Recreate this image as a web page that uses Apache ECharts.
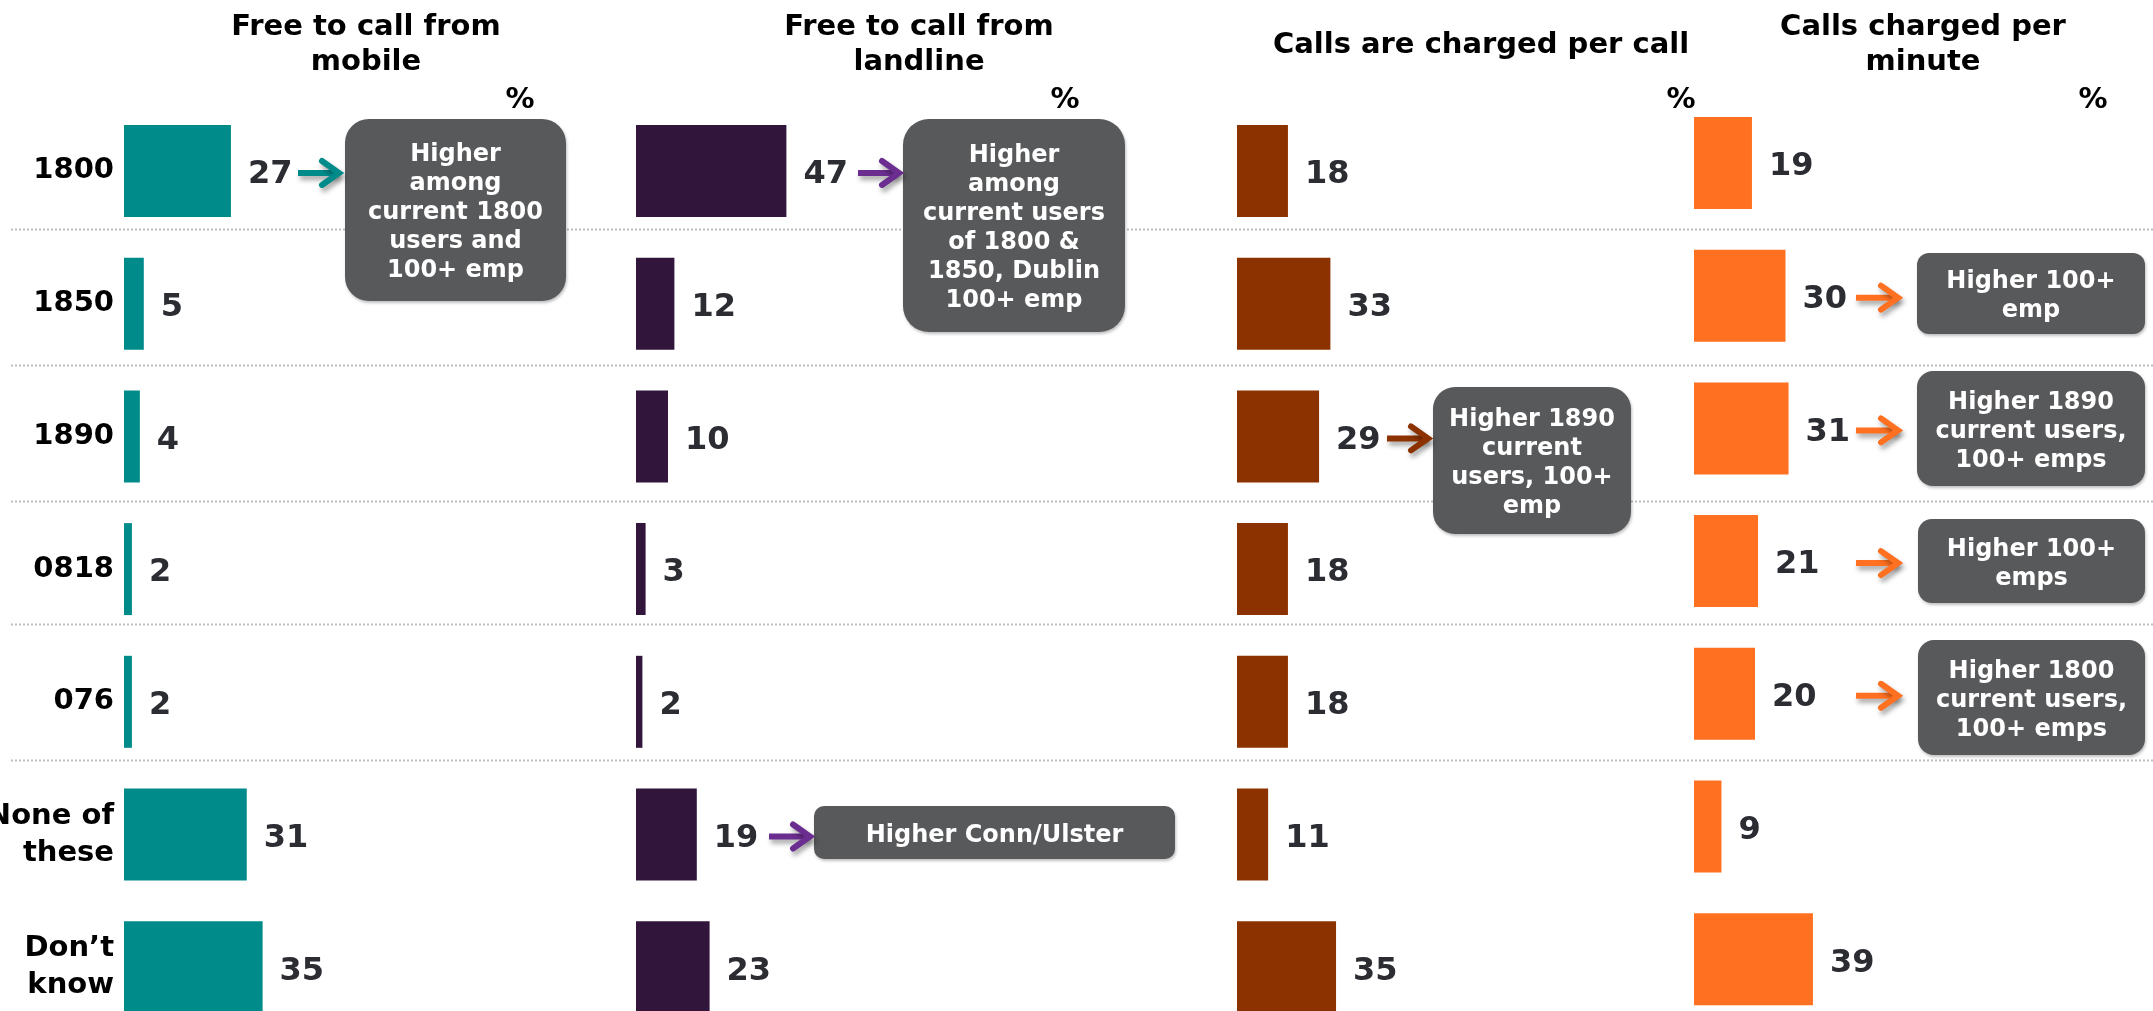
<!DOCTYPE html>
<html>
<head>
<meta charset="utf-8">
<script src="https://cdn.jsdelivr.net/npm/echarts@6/dist/echarts.min.js"></script>
<style>
  html, body { margin: 0; padding: 0; background: #ffffff; }
  #chart { width: 2153px; height: 1011px; }
</style>
</head>
<body>
<div id="chart"></div>
<script>
// ---- data ----
const categories = ['1800', '1850', '1890', '0818', '076', 'None of\nthese', 'Don\u2019t\nknow'];
const panelTitles = ['Free to call from\nmobile', 'Free to call from\nlandline', 'Calls are charged per call', 'Calls charged per\nminute'];
const freeFromMobile = [27, 5, 4, 2, 2, 31, 35];
const freeFromLandline = [47, 12, 10, 3, 2, 19, 23];
const chargedPerCall = [18, 33, 29, 18, 18, 11, 35];
const chargedPerMinute = [19, 30, 31, 21, 20, 9, 39];
const unitLabel = '%';
// dotted dividers, in row units counted from the top of the table
const dividerAt = [0.94, 1.96, 2.99, 3.91, 4.94];
// call-out notes: which panel and row they point from, and their text
const notePanel = [0, 1, 1, 2, 3, 3, 3, 3];
const noteRow = [0, 0, 5, 2, 1, 2, 3, 4];
const noteText = [
  'Higher\namong\ncurrent 1800\nusers and\n100+ emp',
  'Higher\namong\ncurrent users\nof 1800 &\n1850, Dublin\n100+ emp',
  'Higher Conn/Ulster',
  'Higher 1890\ncurrent\nusers, 100+\nemp',
  'Higher 100+\nemp',
  'Higher 1890\ncurrent users,\n100+ emps',
  'Higher 100+\nemps',
  'Higher 1800\ncurrent users,\n100+ emps'
];

// ---- layout & style ----
const FONT = '"DejaVu Sans", Verdana, sans-serif';
const ROW_TOP = 104.6;
const ROWS_HEIGHT = 929;
const panelValues = [freeFromMobile, freeFromLandline, chargedPerCall, chargedPerMinute];
const panelStyle = [
  { color: '#008B8B', arrow: '#008B8B', left: 124, width: 396, top: ROW_TOP, titleX: 361, titleY: 5, pctX: 515 },
  { color: '#31153B', arrow: '#6B2D8F', left: 636, width: 320, top: ROW_TOP, titleX: 914, titleY: 5, pctX: 1060 },
  { color: '#8C3200', arrow: '#8C3200', left: 1237, width: 283, top: ROW_TOP, titleX: 1476, titleY: 23, pctX: 1676 },
  { color: '#FF7020', arrow: '#FF7020', left: 1694, width: 305, top: ROW_TOP - 8, titleX: 1918, titleY: 5, pctX: 2088 }
];
// note boxes [x, y, w, h, radius] and arrow x-span [start, end]
const noteBox = [
  [345, 119, 221, 182, 24],
  [903, 119, 222, 213, 26],
  [814, 806, 361, 53, 10],
  [1433, 387, 198, 147, 22],
  [1917, 253, 228, 81, 12],
  [1917, 371, 228, 115, 16],
  [1918, 519, 227, 84, 14],
  [1918, 640, 227, 115, 16]
];
const noteArrow = [
  [298, 343], [858, 903], [769, 814], [1387, 1432],
  [1856, 1902], [1856, 1902], [1856, 1902], [1856, 1902]
];

const chart = echarts.init(document.getElementById('chart'), null, { renderer: 'canvas' });

const grids = [], xAxes = [], yAxes = [], series = [], titles = [];

panelStyle.forEach((p, i) => {
  grids.push({ left: p.left, width: p.width, top: p.top, height: ROWS_HEIGHT, containLabel: false, outerBoundsMode: 'none' });
  xAxes.push({ type: 'value', gridIndex: i, min: 0, max: 100, show: false });
  yAxes.push({
    type: 'category', gridIndex: i, data: categories, inverse: true,
    show: i === 0,
    axisLine: { show: false }, axisTick: { show: false }, splitLine: { show: false },
    axisLabel: {
      show: i === 0, margin: 10, fontSize: 29, fontWeight: 'bold', color: '#000000',
      fontFamily: FONT, lineHeight: 37, align: 'right', padding: [12, 0, 0, 0]
    }
  });
  series.push({
    type: 'bar', xAxisIndex: i, yAxisIndex: i, data: panelValues[i],
    barWidth: 92, itemStyle: { color: p.color }, z: 3,
    label: {
      show: true, position: 'right', distance: 17, offset: [0, 4], fontSize: 32, fontWeight: 'bold',
      color: '#2B2D33', fontFamily: FONT
    }
  });
  titles.push({
    text: panelTitles[i], left: p.titleX, top: p.titleY, textAlign: 'center',
    textStyle: { fontSize: 29, fontWeight: 'bold', color: '#000000', fontFamily: FONT, lineHeight: 35 }
  });
  titles.push({
    text: unitLabel, left: p.pctX, top: 81, textAlign: 'center',
    textStyle: { fontSize: 29, fontWeight: 'bold', color: '#000000', fontFamily: FONT }
  });
});

// full-width grid that carries the dotted row dividers
grids.push({ left: 11, right: 0, top: ROW_TOP, height: ROWS_HEIGHT, containLabel: false, outerBoundsMode: 'none' });
xAxes.push({ type: 'value', gridIndex: 4, min: 0, max: 1, show: false });
yAxes.push({ type: 'value', gridIndex: 4, min: 0, max: categories.length, inverse: true, show: false });
series.push({
  type: 'custom', xAxisIndex: 4, yAxisIndex: 4, z: 1, silent: true,
  data: dividerAt.map(v => [0, v]),
  renderItem: (params, api) => {
    const y = Math.round(api.coord([0, api.value(1)])[1]) + 0.5;
    const cs = params.coordSys;
    return {
      type: 'line',
      shape: { x1: cs.x, y1: y, x2: cs.x + cs.width, y2: y },
      style: { stroke: '#BDBDBD', lineWidth: 2, lineDash: [2, 2] }
    };
  }
});

chart.setOption({
  animation: false,
  backgroundColor: '#ffffff',
  title: titles,
  grid: grids,
  xAxis: xAxes,
  yAxis: yAxes,
  series: series
});

// call-out boxes and their arrows, hung off the row centres of each panel
const graphics = [];
noteText.forEach((txt, k) => {
  const p = notePanel[k];
  const rowY = chart.convertToPixel({ xAxisIndex: p, yAxisIndex: p }, [0, noteRow[k]])[1];
  const [bx, by, bw, bh, br] = noteBox[k];
  const [ax0, ax1] = noteArrow[k];
  const col = panelStyle[p].arrow;
  const ay = rowY + 2;
  const shadow = { shadowColor: 'rgba(0,0,0,0.35)', shadowBlur: 5, shadowOffsetX: 2, shadowOffsetY: 4 };
  graphics.push({
    type: 'rect', z: 20,
    shape: { x: bx, y: by, width: bw, height: bh, r: br },
    style: { fill: '#58595B', shadowColor: 'rgba(0,0,0,0.25)', shadowBlur: 3, shadowOffsetX: 1, shadowOffsetY: 2 }
  });
  graphics.push({
    type: 'text', z: 21,
    style: {
      text: txt, x: bx + bw / 2, y: by + bh / 2 + 3, align: 'center', verticalAlign: 'middle',
      fill: '#ffffff', font: 'bold 24px ' + FONT, lineHeight: 29
    }
  });
  graphics.push({
    type: 'line', z: 20,
    shape: { x1: ax0, y1: ay, x2: ax1 - 5, y2: ay },
    style: Object.assign({ stroke: col, lineWidth: 6 }, shadow)
  });
  graphics.push({
    type: 'polyline', z: 20,
    shape: { points: [[ax1 - 21, ay - 12], [ax1 - 4, ay], [ax1 - 21, ay + 12]] },
    style: Object.assign({ stroke: col, lineWidth: 6, fill: null, lineJoin: 'miter', lineCap: 'round' }, shadow)
  });
});
chart.setOption({ graphic: graphics });
</script>
</body>
</html>
